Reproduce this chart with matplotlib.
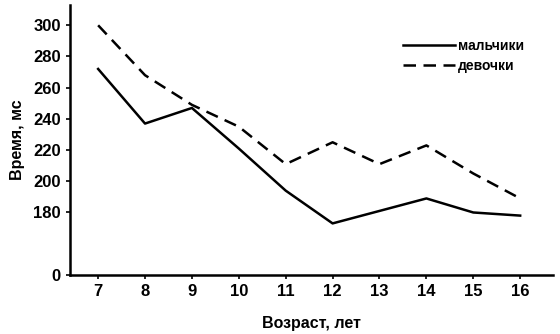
import matplotlib
matplotlib.use('Agg')
import matplotlib.pyplot as plt

# Время реакции по возрастам
ages = [7, 8, 9, 10, 11, 12, 13, 14, 15, 16]
boys = [272, 237, 247, 221, 194, 173, 181, 189, 180, 178]
girls = [300, 268, 249, 235, 211, 225, 211, 223, 205, 189]

y_ticks = [140, 180, 200, 220, 240, 260, 280, 300]
y_labels = ['0', '180', '200', '220', '240', '260', '280', '300']

plt.rcParams['font.family'] = ['Liberation Sans Narrow', 'Liberation Sans', 'DejaVu Sans']
plt.rcParams['font.weight'] = 'bold'
plt.rcParams['axes.labelweight'] = 'bold'

fig = plt.figure(figsize=(5.6, 3.34), dpi=100)
ax = fig.add_axes([0.125, 0.177, 0.8625, 0.808])

ax.plot(ages, boys, color='black', lw=1.8, label='мальчики')
ax.plot(ages, girls, color='black', lw=1.8, ls=(0, (5, 3)), label='девочки')

ax.set_xlim(6.4, 16.7)
ax.set_ylim(140, 313)
ax.set_xticks(ages)
ax.set_yticks(y_ticks)
ax.set_yticklabels(y_labels)
ax.tick_params(labelsize=12, width=1.2, length=3, color='black')

for side in ['top', 'right']:
    ax.spines[side].set_visible(False)
for side in ['left', 'bottom']:
    ax.spines[side].set_linewidth(1.8)

ax.set_xlabel('Возраст, лет', fontsize=11.5, labelpad=12)
ax.set_ylabel('Время, мс', fontsize=11.5, labelpad=6)

ax.legend(loc='upper left', bbox_to_anchor=(0.689, 0.875), frameon=False,
          borderpad=0, borderaxespad=0, fontsize=10, handlelength=3.75,
          handletextpad=0.25, labelspacing=0.45)

fig.savefig('out.png', dpi=100)
